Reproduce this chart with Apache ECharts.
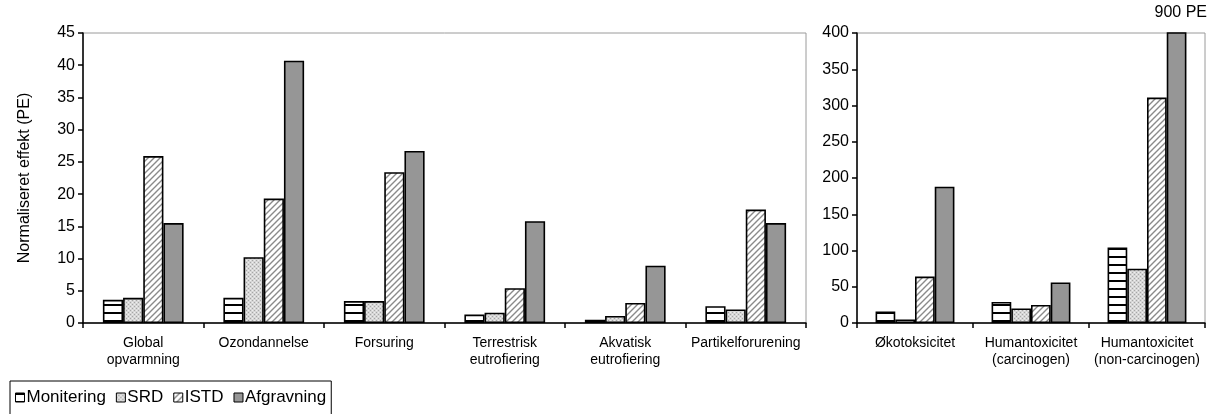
<!DOCTYPE html>
<html>
<head>
<meta charset="utf-8">
<script src="https://cdn.jsdelivr.net/npm/echarts@6/dist/echarts.min.js"></script>
<style>
html,body{margin:0;padding:0;background:#fff;}
#chart{width:1211px;height:414px;}
</style>
</head>
<body>
<div id="chart"></div>
<script>
// ---- data ----
const leftCategories = ['Global\nopvarmning', 'Ozondannelse', 'Forsuring', 'Terrestrisk\neutrofiering', 'Akvatisk\neutrofiering', 'Partikelforurening'];
const rightCategories = ['Økotoksicitet', 'Humantoxicitet\n(carcinogen)', 'Humantoxicitet\n(non-carcinogen)'];
const seriesNames = ['Monitering', 'SRD', 'ISTD', 'Afgravning'];

const leftMonitering = [3.6, 3.9, 3.4, 1.3, 0.5, 2.6];
const leftSRD        = [3.9, 10.2, 3.4, 1.6, 1.1, 2.1];
const leftISTD       = [25.9, 19.3, 23.4, 5.4, 3.1, 17.6];
const leftAfgravning = [15.5, 40.7, 26.7, 15.8, 8.9, 15.5];

const rightMonitering = [16, 29, 104];
const rightSRD        = [5, 20, 75];
const rightISTD       = [64, 25, 311];
const rightAfgravning = [188, 56, 900];

const leftTicks = {min: 0, max: 45, interval: 5};
const rightTicks = {min: 0, max: 400, interval: 50};

// ---- patterns ----
function makePattern(w, h, draw) {
  const c = document.createElement('canvas');
  c.width = w; c.height = h;
  const ctx = c.getContext('2d');
  draw(ctx, w, h);
  return {image: c, repeat: 'repeat'};
}
const patMon = makePattern(8, 8, (ctx, w, h) => {
  ctx.fillStyle = '#fff'; ctx.fillRect(0, 0, w, h);
  ctx.fillStyle = '#000'; ctx.fillRect(0, 0, w, 2);
});
const patSRD = makePattern(4, 4, (ctx, w, h) => {
  ctx.fillStyle = '#d6d6d6'; ctx.fillRect(0, 0, w, h);
  ctx.fillStyle = '#a6a6a6';
  ctx.fillRect(0, 0, 1, 1); ctx.fillRect(2, 2, 1, 1);
  ctx.fillStyle = '#eeeeee';
  ctx.fillRect(2, 0, 1, 1); ctx.fillRect(0, 2, 1, 1);
});
const patISTD = makePattern(6, 6, (ctx, w, h) => {
  ctx.fillStyle = '#fff'; ctx.fillRect(0, 0, w, h);
  ctx.strokeStyle = '#8a8a8a'; ctx.lineWidth = 1.4;
  ctx.beginPath();
  ctx.moveTo(-1, h + 1); ctx.lineTo(w + 1, -1);
  ctx.moveTo(-4, 4); ctx.lineTo(4, -4);
  ctx.moveTo(w - 4, h + 4); ctx.lineTo(w + 4, h - 4);
  ctx.stroke();
});
const fills = [patMon, patSRD, patISTD, '#969696'];

const FONT = 'Liberation Sans, Arial, sans-serif';

const leftData = [leftMonitering, leftSRD, leftISTD, leftAfgravning];
const rightData = [rightMonitering, rightSRD, rightISTD, rightAfgravning];

const series = [];
[leftData, rightData].forEach((set, gi) => {
  set.forEach((vals, si) => {
    series.push({
      name: seriesNames[si],
      type: 'bar',
      xAxisIndex: gi,
      yAxisIndex: gi,
      data: vals,
      clip: true,
      barGap: '0%',
      barCategoryGap: gi === 0 ? '33%' : '32%',
      itemStyle: {color: fills[si], borderColor: '#000', borderWidth: 1.6},
      emphasis: {disabled: true},
      animation: false
    });
  });
});

function xAxis(gi, cats) {
  return {
    type: 'category', gridIndex: gi, data: cats,
    axisLine: {show: true, lineStyle: {color: '#000', width: 1.5}},
    axisTick: {show: true, alignWithLabel: false, length: 5, lineStyle: {color: '#000', width: 1.5}},
    axisLabel: {interval: 0, color: '#000', fontFamily: FONT, fontSize: 14, lineHeight: 17, margin: 12}
  };
}
function yAxis(gi, t, fs) {
  return {
    type: 'value', gridIndex: gi, min: t.min, max: t.max, interval: t.interval,
    axisLine: {show: true, lineStyle: {color: '#000', width: 1.5}},
    axisTick: {show: true, length: 5, lineStyle: {color: '#000', width: 1.5}},
    splitLine: {show: false},
    axisLabel: {color: '#000', fontFamily: FONT, fontSize: fs, margin: 8}
  };
}

const yLeft = yAxis(0, leftTicks, 16);
yLeft.name = 'Normaliseret effekt (PE)';
yLeft.nameLocation = 'middle';
yLeft.nameGap = 50;
yLeft.nameTextStyle = {color: '#000', fontFamily: FONT, fontSize: 16};

const chart = echarts.init(document.getElementById('chart'), null, {renderer: 'canvas'});
chart.setOption({
  animation: false,
  backgroundColor: '#fff',
  grid: [
    {left: 83, right: 405, top: 33, bottom: 91, show: true, borderColor: '#9a9a9a', borderWidth: 1, backgroundColor: 'transparent'},
    {left: 857, right: 6, top: 33, bottom: 91, show: true, borderColor: '#9a9a9a', borderWidth: 1, backgroundColor: 'transparent'}
  ],
  legend: {
    data: seriesNames.map(n => ({name: n, icon: 'rect'})),
    left: 10, top: 381,
    orient: 'horizontal',
    itemWidth: 9, itemHeight: 9, itemGap: 10,
    padding: [8, 5, 10, 5],
    borderColor: '#000', borderWidth: 1,
    itemStyle: {borderColor: '#000', borderWidth: 1},
    textStyle: {color: '#000', fontFamily: FONT, fontSize: 17, padding: [0, 0, 0, -3]},
    selectedMode: false
  },
  xAxis: [xAxis(0, leftCategories), xAxis(1, rightCategories)],
  yAxis: [yLeft, yAxis(1, rightTicks, 16)],
  series: series,
  graphic: [{
    type: 'text', right: 4, top: 5,
    style: {text: rightAfgravning[2] + ' PE', fill: '#000', font: '16px ' + FONT}
  }]
});
</script>
</body>
</html>
